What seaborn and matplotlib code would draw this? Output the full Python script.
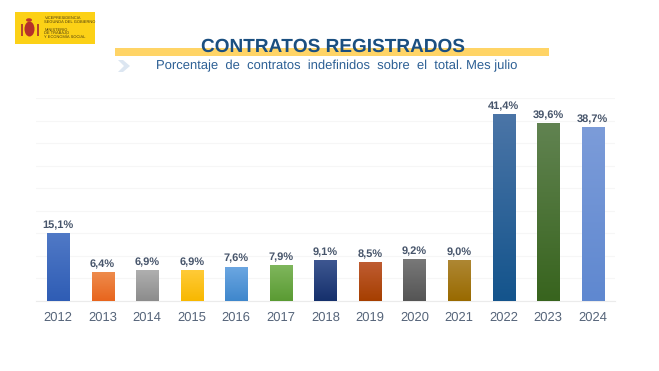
import matplotlib
matplotlib.use('Agg')
import matplotlib.pyplot as plt
from matplotlib.colors import LinearSegmentedColormap
from matplotlib.patches import Rectangle, Ellipse, Polygon
import numpy as np
import pandas as pd
import seaborn as sns

years = ['2012', '2013', '2014', '2015', '2016', '2017', '2018',
         '2019', '2020', '2021', '2022', '2023', '2024']
shares = [15.1, 6.4, 6.9, 6.9, 7.6, 7.9, 9.1, 8.5, 9.2, 9.0, 41.4, 39.6, 38.7]
labels = ['15,1%', '6,4%', '6,9%', '6,9%', '7,6%', '7,9%', '9,1%',
          '8,5%', '9,2%', '9,0%', '41,4%', '39,6%', '38,7%']
top_colors = ['#5079C6', '#EE8B4C', '#B0B0B0', '#FFCB3A', '#6CA7E2', '#7FB65C', '#3E5791',
              '#BF5C32', '#787878', '#AE8733', '#4B75A7', '#618351', '#7C9CD9']
bottom_colors = ['#2F5DB5', '#E8651D', '#8C8C8C', '#F8B800', '#3F87CC', '#5A9B33', '#15306C',
                 '#A63F00', '#555555', '#996A00', '#14548C', '#38641E', '#5F88D0']

sns.set_theme(style='white')
plt.rcParams['font.family'] = ['Liberation Sans', 'DejaVu Sans']
plt.rcParams['text.hinting'] = 'no_hinting'
plt.rcParams['text.hinting_factor'] = 1

W, H = 659, 371
fig = plt.figure(figsize=(W / 100, H / 100), dpi=100, facecolor='white')

# Chart area, placed in pixels
left, right, top, bottom = 35.7, 615, 98.3, 300.7
ax = fig.add_axes([left / W, 1 - bottom / H, (right - left) / W, (bottom - top) / H])

df = pd.DataFrame({'year': years, 'share': shares})
sns.barplot(data=df, x='year', y='share', color='#888888', width=0.495, ax=ax, zorder=2)

ax.set_yticks(np.arange(0, 46, 5))
ax.set_yticklabels([])
ax.set_xlabel('')
ax.set_ylabel('')
ax.grid(axis='y', color='#F6F6F6', linewidth=0.8, zorder=0)
ax.tick_params(axis='x', length=0, pad=7.5, labelsize=9, labelcolor='#56657A')
ax.tick_params(axis='y', length=0)
sns.despine(ax=ax, left=True, top=True, right=True)
ax.spines['bottom'].set_color('#EBEBEB')
ax.spines['bottom'].set_linewidth(0.8)

# Vertical gradient in each bar, clipped to the bar seaborn drew
for bar, c_top, c_bottom, label in zip(ax.patches, top_colors, bottom_colors, labels):
    cmap = LinearSegmentedColormap.from_list('bar', [c_top, c_bottom])
    x0, w, h = bar.get_x(), bar.get_width(), bar.get_height()
    img = ax.imshow(np.linspace(0, 1, 64).reshape(-1, 1), cmap=cmap, aspect='auto',
                    extent=[x0, x0 + w, 0, h], origin='upper', zorder=3)
    img.set_clip_path(bar)
    ax.text(x0 + w / 2, h + 0.55, label, ha='center', va='bottom', fontsize=7.9,
            fontweight='bold', color='#47556B', zorder=4)
ax.set_xlim(-0.5, 12.5)
ax.set_ylim(0, 45)

# Header drawn in pixel coordinates
head = fig.add_axes([0, 0, 1, 1], facecolor='none')
head.set_xlim(0, W)
head.set_ylim(H, 0)
head.axis('off')

head.add_patch(Rectangle((115, 48), 434, 8, color='#FFD466', lw=0))
head.text(332.5, 46.8, 'CONTRATOS REGISTRADOS', ha='center', va='center', fontsize=13.9,
          fontweight='bold', color='#1B4F80')
head.text(336.5, 65.5, 'Porcentaje  de  contratos  indefinidos  sobre  el  total. Mes julio',
          ha='center', va='center', fontsize=9.25, color='#2C5F94')
head.add_patch(Polygon([(118, 60), (123, 60), (130, 66), (123, 72), (118, 72), (124, 66)],
                       color='#DCE6F1', lw=0))

# Logo
head.add_patch(Rectangle((15, 12), 80, 32, color='#FCD116', lw=0))
head.add_patch(Ellipse((29.5, 29), 10, 15, color='#B5302A', lw=0))
head.add_patch(Ellipse((29, 20), 6, 3.5, color='#C0392B', lw=0))
head.add_patch(Rectangle((20.5, 24), 2, 12, color='#B5452F', lw=0))
head.add_patch(Rectangle((37, 24), 2, 12, color='#B5452F', lw=0))
for y, txt in [(18, 'VICEPRESIDENCIA'), (21.5, 'SEGUNDA DEL GOBIERNO'), (29.5, 'MINISTERIO'),
               (33, 'DE TRABAJO'), (36.5, 'Y ECONOMÍA SOCIAL')]:
    head.text(44.5, y, txt, ha='left', va='center', fontsize=2.8, color='#4A3A10')

fig.savefig('out.png', dpi=100, facecolor='white')
